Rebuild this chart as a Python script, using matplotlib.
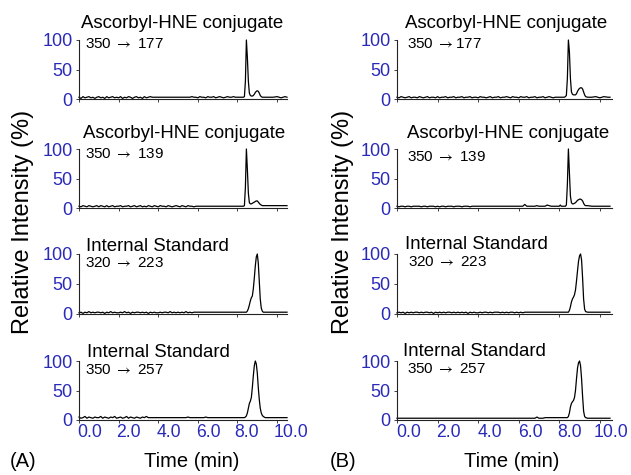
import matplotlib
matplotlib.use("Agg")
import matplotlib.pyplot as plt
from matplotlib.transforms import ScaledTranslation

plt.rcParams['font.family'] = ['Liberation Sans', 'DejaVu Sans']
plt.rcParams['mathtext.fontset'] = 'stix'

# ---------------- data ----------------
time_min = [0.0, 0.1, 0.2, 0.3, 0.4, 0.5, 0.6, 0.7, 0.8, 0.9,
            1.0, 1.1, 1.2, 1.3, 1.4, 1.5, 1.6, 1.7, 1.8, 1.9,
            2.0, 2.1, 2.2, 2.3, 2.4, 2.5, 2.6, 2.7, 2.8, 2.9,
            3.0, 3.1, 3.2, 3.3, 3.4, 3.5, 3.6, 3.7, 3.8, 3.9,
            4.0, 4.1, 4.2, 4.3, 4.4, 4.5, 4.6, 4.7, 4.8, 4.9,
            5.0, 5.1, 5.2, 5.3, 5.4, 5.5, 5.6, 5.7, 5.8, 5.9,
            6.0, 6.1, 6.2, 6.3, 6.4, 6.5, 6.6, 6.7, 6.8, 6.9,
            7.0, 7.1, 7.2, 7.3, 7.4, 7.5, 7.6, 7.7, 7.8, 7.9,
            8.0, 8.05, 8.1, 8.15, 8.2, 8.25, 8.3, 8.35, 8.4, 8.45,
            8.5, 8.55, 8.6, 8.65, 8.7, 8.75, 8.8, 8.85, 8.9, 8.95,
            9.0, 9.05, 9.1, 9.15, 9.2, 9.25, 9.3,
            9.4, 9.6, 9.8, 10.0, 10.2, 10.4, 10.5]

# Panel A
a_177 = [3, 1, 4, 2, 3, 4, 2, 3, 1, 3,
         4, 2, 3, 1, 4, 2, 3, 4, 2, 3,
         2, 4, 1, 3, 2, 4, 3, 1, 3, 4,
         2, 3, 1, 4, 2, 3, 4, 3, 3, 3,
         3, 3, 3, 3, 3, 3, 3, 3, 3, 3,
         3, 3, 3, 3, 3, 3, 3, 4, 3, 3,
         2, 4, 3, 3, 2, 4, 3, 3, 4, 2,
         3, 4, 3, 2, 3, 4, 3, 3, 4, 3,
         3, 3, 3, 3, 3, 3, 3, 4, 30, 100,
         70, 30, 10, 6, 5, 5, 6, 8, 11, 13,
         14, 13, 10, 6, 4, 3, 3,
         3, 3, 3, 4, 2, 4, 3]
a_139 = [3, 2, 4, 3, 2, 4, 3, 2, 3, 4,
         2, 4, 3, 2, 4, 2, 3, 4, 2, 3,
         3, 4, 2, 3, 3, 4, 2, 3, 4, 2,
         3, 4, 2, 3, 2, 4, 3, 2, 4, 3,
         2, 4, 3, 3, 2, 4, 3, 2, 3, 4,
         3, 2, 4, 3, 2, 4, 3, 3, 2, 3,
         3, 3, 3, 3, 3, 3, 3, 3, 3, 3,
         3, 3, 3, 3, 3, 3, 3, 3, 3, 3,
         3, 3, 3, 3, 3, 3, 3, 4, 35, 100,
         65, 25, 9, 7, 7, 8, 9, 10, 11, 12,
         12, 10, 8, 6, 5, 4, 4,
         4, 4, 4, 4, 4, 4, 4]
a_223 = [2, 3, 1, 3, 2, 4, 2, 3, 2, 3,
         3, 2, 3, 1, 3, 2, 4, 2, 3, 2,
         2, 3, 2, 4, 2, 3, 1, 3, 2, 3,
         3, 2, 3, 2, 3, 1, 3, 2, 3, 2,
         2, 3, 2, 3, 3, 2, 4, 2, 3, 2,
         3, 2, 3, 2, 4, 2, 3, 2, 3, 3,
         3, 3, 3, 3, 3, 3, 3, 3, 3, 3,
         3, 3, 3, 3, 3, 3, 3, 3, 3, 3,
         3, 3, 3, 3, 3, 3, 3, 3, 3, 3,
         5, 9, 15, 22, 27, 30, 42, 60, 80, 95,
         100, 85, 55, 25, 10, 5, 3,
         3, 3, 3, 3, 3, 3, 3]
a_257 = [5, 3, 4, 6, 3, 5, 4, 3, 5, 4,
         4, 6, 3, 5, 4, 3, 5, 4, 6, 3,
         4, 5, 3, 4, 6, 3, 5, 4, 3, 5,
         4, 3, 5, 4, 6, 4, 4, 4, 4, 4,
         4, 4, 4, 4, 4, 4, 4, 4, 4, 4,
         4, 4, 4, 4, 4, 5, 4, 4, 4, 4,
         4, 4, 4, 4, 5, 4, 4, 4, 4, 4,
         4, 4, 4, 4, 4, 4, 4, 4, 4, 4,
         4, 4, 4, 4, 4, 4, 4, 4, 5, 7,
         12, 20, 28, 32, 38, 55, 75, 92, 100, 95,
         80, 55, 35, 20, 12, 8, 6,
         4, 4, 4, 4, 4, 4, 4]

# Panel B
b_177 = [3, 2, 4, 3, 2, 3, 4, 2, 3, 3,
         2, 4, 3, 2, 3, 4, 2, 3, 3, 2,
         4, 2, 3, 3, 4, 2, 3, 3, 4, 2,
         3, 3, 4, 2, 3, 3, 4, 2, 3, 3,
         2, 4, 3, 3, 2, 3, 4, 2, 3, 3,
         4, 2, 3, 3, 4, 3, 2, 4, 3, 3,
         2, 4, 3, 3, 4, 2, 3, 3, 4, 2,
         3, 3, 4, 2, 3, 4, 3, 2, 3, 3,
         3, 3, 3, 3, 3, 3, 4, 6, 35, 100,
         80, 35, 12, 8, 7, 7, 7, 9, 13, 16,
         18, 19, 19, 17, 12, 7, 4,
         3, 3, 4, 2, 4, 3, 3]
b_139 = [3, 2, 3, 3, 2, 3, 3, 2, 3, 3,
         3, 3, 2, 3, 3, 2, 3, 3, 3, 2,
         3, 2, 3, 3, 2, 3, 3, 3, 2, 3,
         3, 3, 2, 3, 3, 3, 2, 3, 3, 3,
         3, 3, 3, 3, 3, 3, 3, 3, 3, 3,
         3, 3, 3, 3, 3, 3, 3, 3, 3, 3,
         3, 3, 3, 6, 3, 3, 3, 3, 3, 4,
         3, 3, 3, 3, 5, 4, 3, 3, 3, 3,
         3, 5, 3, 3, 3, 3, 3, 5, 40, 100,
         60, 20, 9, 7, 7, 8, 9, 11, 13, 14,
         15, 15, 14, 12, 8, 5, 4,
         4, 3, 3, 3, 3, 3, 3]
b_223 = [2, 3, 2, 3, 1, 3, 2, 3, 2, 3,
         3, 2, 3, 2, 3, 3, 2, 3, 1, 3,
         2, 3, 2, 3, 2, 3, 3, 2, 3, 2,
         3, 2, 3, 2, 3, 1, 3, 2, 3, 2,
         2, 3, 2, 3, 3, 2, 3, 2, 3, 3,
         3, 2, 3, 2, 3, 2, 3, 3, 2, 3,
         2, 3, 2, 3, 3, 3, 3, 3, 3, 3,
         3, 3, 3, 3, 3, 3, 3, 3, 3, 3,
         3, 3, 3, 3, 3, 3, 3, 3, 3, 3,
         6, 12, 20, 25, 28, 32, 40, 55, 72, 88,
         97, 100, 90, 60, 25, 8, 4,
         3, 3, 3, 3, 3, 3, 3]
b_257 = [3, 3, 3, 3, 3, 3, 3, 3, 3, 3,
         3, 3, 3, 3, 3, 3, 3, 3, 3, 3,
         3, 3, 3, 3, 3, 3, 3, 3, 3, 3,
         3, 3, 3, 3, 3, 3, 3, 3, 3, 3,
         3, 3, 3, 3, 3, 3, 3, 3, 3, 3,
         3, 3, 3, 3, 3, 3, 3, 3, 3, 3,
         3, 3, 3, 3, 3, 3, 3, 3, 3, 5,
         3, 3, 3, 4, 4, 4, 4, 4, 4, 4,
         4, 4, 4, 4, 4, 4, 4, 4, 4, 6,
         12, 22, 28, 31, 33, 38, 50, 70, 88, 97,
         100, 92, 70, 40, 15, 6, 4,
         3, 3, 3, 3, 3, 3, 3]

titles = ["Ascorbyl-HNE conjugate", "Ascorbyl-HNE conjugate",
          "Internal Standard", "Internal Standard"]
transitions_a = ["350 $\\rightarrow$ 177", "350 $\\rightarrow$ 139",
                 "320 $\\rightarrow$ 223", "350 $\\rightarrow$ 257"]
transitions_b = ["350 $\\rightarrow$177", "350 $\\rightarrow$ 139",
                 "320 $\\rightarrow$ 223", "350 $\\rightarrow$ 257"]
x_ticks = [0, 2, 4, 6, 8, 10]
x_tick_labels = ["0.0", "2.0", "4.0", "6.0", "8.0", "10.0"]
y_ticks = [0, 50, 100]
y_tick_labels = ["0", "50", "100"]

# ---------------- layout ----------------
W, H = 631, 475
fig = plt.figure(figsize=(W / 100, H / 100), dpi=100)
BLUE = '#2a2ab8'

def px(x, y):
    return x / W, 1 - y / H

panels = [
    dict(left=79, right=287, xmax=10.5, traces=[a_177, a_139, a_223, a_257],
         trans=transitions_a,
         title_xy=[(81, 28), (83, 138), (86, 251), (87, 357)],
         trans_xy=[(85, 48), (85, 158), (85, 267), (85, 374)],
         lab_dx=[-2, -2, -2, -2, -3, -3],
         ylabel_x=23, xlabel_x=192, tag="(A)", tag_x=10),
    dict(left=397, right=612, xmax=10.6, traces=[b_177, b_139, b_223, b_257],
         trans=transitions_b,
         title_xy=[(405, 28), (407, 138), (405, 249), (403, 356)],
         trans_xy=[(407, 48), (407, 161), (408, 266), (407, 373)],
         lab_dx=[-1, -1, -1, -1, -2, -6],
         ylabel_x=343, xlabel_x=512, tag="(B)", tag_x=330),
]
row_top = [40, 149, 254, 361]
row_bot = [99, 208, 314, 420]

for p in panels:
    for i in range(4):
        l = p['left'] / W
        w = (p['right'] - p['left']) / W
        b = 1 - row_bot[i] / H
        h = (row_bot[i] - row_top[i]) / H
        ax = fig.add_axes([l, b, w, h])
        ax.plot(time_min, p['traces'][i], color='black', lw=0.9, clip_on=False)
        ax.set_xlim(0, p['xmax'])
        ax.set_ylim(0, 100)
        for s in ['top', 'right']:
            ax.spines[s].set_visible(False)
        for s in ['left', 'bottom']:
            ax.spines[s].set_linewidth(0.8)
            ax.spines[s].set_color('#222222')
        ax.set_xticks(x_ticks)
        ax.set_yticks(y_ticks)
        ax.set_yticklabels(y_tick_labels, fontsize=13, color=BLUE)
        ax.tick_params(axis='both', direction='out', length=2.5, width=0.6,
                       color='#222222')
        ax.tick_params(axis='y', pad=2)
        ax.tick_params(axis='x', pad=0.5)
        if i == 3:
            labs = ax.set_xticklabels(x_tick_labels, fontsize=12.7, color=BLUE, ha='left')
            for lab, dx in zip(labs, p['lab_dx']):
                lab.set_transform(lab.get_transform() +
                                  ScaledTranslation(dx / 100, 0, fig.dpi_scale_trans))
        else:
            ax.set_xticklabels([])
        tx, ty = p['title_xy'][i]
        fig.text(*px(tx, ty), titles[i], fontsize=13.4, va='baseline', ha='left')
        rx, ry = p['trans_xy'][i]
        fig.text(*px(rx, ry), p['trans'][i], fontsize=11, va='baseline', ha='left')
    fig.text(*px(p['ylabel_x'], 222), "Relative Intensity (%)", fontsize=17,
             rotation=90, va='center', ha='center')
    fig.text(*px(p['xlabel_x'], 467), "Time (min)", fontsize=14.5,
             va='baseline', ha='center')
    fig.text(*px(p['tag_x'], 467), p['tag'], fontsize=14.5, va='baseline', ha='left')

fig.savefig("out.png", dpi=100)
